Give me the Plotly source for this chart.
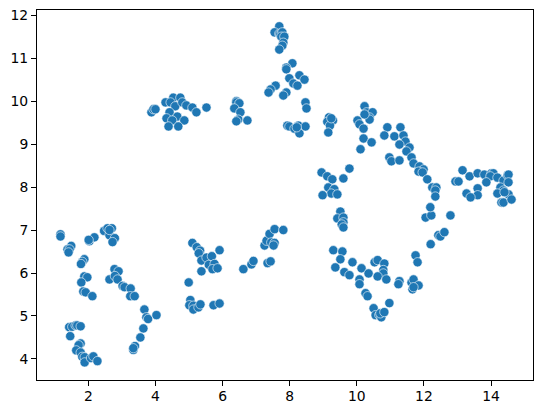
import plotly.graph_objects as go

x_left_low = [1.17, 1.17, 1.49, 1.38, 1.44, 1.41, 2.03, 2.18, 2.01, 2.47, 2.57, 2.70, 2.63, 2.79, 2.72, 2.63,
              1.88, 1.82, 1.78, 1.88, 1.97, 1.79, 1.85, 1.92, 2.12, 2.78, 2.90, 2.63, 2.79, 2.87,
              3.02, 3.08, 3.26, 3.25, 3.38, 3.67, 3.73, 3.78, 4.03, 3.64, 3.55, 3.39, 3.34, 3.34,
              1.43, 1.52, 1.62, 1.67, 1.77, 1.46, 1.77, 1.71, 1.64, 1.77, 1.82, 1.89, 1.89, 2.08, 2.15, 2.27]
y_left_low = [6.90, 6.85, 6.63, 6.55, 6.55, 6.48, 6.74, 6.83, 6.77, 6.98, 7.04, 7.04, 6.88, 6.81, 6.72, 7.00,
              6.32, 6.26, 6.21, 5.92, 5.90, 5.78, 5.57, 5.55, 5.46, 6.09, 6.04, 5.85, 5.93, 5.85,
              5.70, 5.67, 5.64, 5.46, 5.46, 5.15, 4.97, 4.93, 5.02, 4.71, 4.50, 4.30, 4.21, 4.25,
              4.74, 4.75, 4.78, 4.78, 4.76, 4.53, 4.36, 4.32, 4.20, 4.15, 4.05, 4.04, 3.92, 4.02, 4.06, 3.95]

x_mid_low = [4.99, 5.10, 5.23, 5.33, 5.29, 5.37, 5.52, 5.68, 5.59, 5.76, 5.70, 5.85, 5.91, 5.37,
             5.04, 5.01, 5.13, 5.13, 5.28, 5.34, 5.73, 5.91, 6.62, 6.86, 6.92, 7.34, 7.43,
             7.25, 7.31, 7.40, 7.55, 7.81, 7.45, 7.55, 7.52]
y_mid_low = [5.78, 6.70, 6.60, 6.52, 6.46, 6.29, 6.36, 6.39, 6.19, 6.21, 6.09, 6.11, 6.53, 6.04,
             5.37, 5.25, 5.24, 5.15, 5.20, 5.27, 5.25, 5.29, 6.09, 6.20, 6.28, 6.23, 6.27,
             6.64, 6.75, 6.91, 7.02, 7.00, 6.71, 6.70, 6.64]

x_ring_low = [9.51, 9.42, 9.60, 9.60, 9.55, 9.60, 9.30, 9.57, 9.51, 9.36, 9.63, 9.78, 9.87, 10.14, 10.08, 10.08,
              10.35, 10.26, 10.32, 10.53, 10.62, 10.82, 10.79, 10.79, 10.62, 10.88, 11.27, 11.24, 10.97,
              10.50, 10.56, 10.67, 10.73, 10.70, 10.82, 11.63, 11.69, 11.84, 11.66, 11.69, 11.75, 11.81,
              12.20, 12.43, 12.49, 12.61, 12.79, 12.05, 12.22]
y_ring_low = [7.43, 7.27, 7.29, 7.18, 7.13, 7.06, 6.53, 6.50, 6.32, 6.13, 6.02, 5.95, 6.25, 6.11, 5.85, 5.74,
              5.99, 5.53, 5.46, 6.25, 6.30, 6.22, 6.07, 5.99, 5.92, 5.85, 5.81, 5.74, 5.30,
              5.18, 5.02, 5.02, 4.97, 5.06, 5.09, 5.78, 5.85, 5.71, 5.62, 5.67, 6.41, 6.25,
              6.67, 6.88, 6.85, 6.95, 7.34, 7.29, 7.34]

x_ring_up = [9.17, 9.12, 9.29, 9.20, 9.24, 9.15, 10.23, 10.29, 10.47, 10.38, 10.38, 10.23, 10.02, 10.08, 10.20,
             10.20, 10.44, 10.11, 10.91, 10.82, 11.12, 11.30, 11.39, 11.45, 11.27, 11.57, 11.48, 11.63, 10.97,
             11.03, 11.27, 11.69, 11.87, 11.99, 11.84, 11.96, 12.10, 12.25, 12.37, 12.34, 12.34, 12.19,
             9.78, 8.95, 9.12, 9.27, 9.60, 9.15, 9.33, 9.24, 9.42, 8.98]
y_ring_up = [9.62, 9.52, 9.55, 9.43, 9.60, 9.27, 9.88, 9.74, 9.74, 9.62, 9.57, 9.69, 9.55, 9.46, 9.36,
             9.13, 9.04, 8.88, 9.39, 9.20, 9.18, 9.39, 9.20, 9.06, 8.99, 8.92, 8.83, 8.69, 8.69,
             8.60, 8.62, 8.55, 8.48, 8.41, 8.36, 8.34, 8.18, 7.99, 7.99, 7.92, 7.78, 7.53,
             8.43, 8.34, 8.25, 8.18, 8.20, 7.99, 7.95, 7.85, 7.83, 7.81]

x_right = [13.15, 13.36, 13.60, 13.80, 14.01, 14.07, 13.98, 13.86, 14.19, 14.37, 14.49, 14.52, 14.52, 12.94, 13.03,
           13.60, 13.60, 13.27, 13.39, 14.28, 14.37, 14.19, 14.52, 14.31, 14.37, 14.61, 14.40]
y_right = [8.39, 8.25, 8.32, 8.29, 8.32, 8.32, 8.25, 8.11, 8.22, 8.15, 8.27, 8.29, 8.11, 8.13, 8.13,
           7.97, 7.81, 7.85, 7.76, 7.99, 7.92, 7.85, 7.83, 7.64, 7.64, 7.71, 7.88]

x_top_left = [3.88, 3.94, 4.00, 4.53, 4.74, 4.30, 4.45, 4.59, 4.80, 4.92, 5.10, 5.22, 5.52, 4.42, 4.33, 4.65, 4.50,
              4.86, 4.39, 4.68, 6.41, 6.41, 6.50, 6.35, 6.53, 6.47, 6.41, 6.74]
y_top_left = [9.74, 9.81, 9.81, 10.08, 10.08, 9.97, 9.97, 9.88, 9.97, 9.90, 9.85, 9.74, 9.85, 9.74, 9.60, 9.64, 9.55,
              9.55, 9.41, 9.41, 10.00, 9.97, 9.95, 9.83, 9.74, 9.57, 9.53, 9.55]

x_top = [7.69, 7.55, 7.69, 7.72, 7.78, 7.75, 7.84, 7.81, 7.78, 7.69, 8.08, 7.90, 7.90, 7.99, 8.29, 8.44, 8.11, 8.23,
         7.58, 7.43, 7.37, 7.90, 7.81, 8.47, 8.50, 7.93, 7.99, 8.14, 8.26, 8.29, 8.47, 8.21]
y_top = [11.74, 11.60, 11.57, 11.55, 11.60, 11.50, 11.50, 11.36, 11.29, 11.20, 10.88, 10.78, 10.74, 10.53, 10.60, 10.50, 10.41, 10.36,
         10.36, 10.27, 10.20, 10.20, 10.13, 9.97, 9.83, 9.43, 9.41, 9.36, 9.43, 9.25, 9.41, 9.39]

x_vals = x_left_low + x_mid_low + x_ring_low + x_ring_up + x_right + x_top_left + x_top
y_vals = y_left_low + y_mid_low + y_ring_low + y_ring_up + y_right + y_top_left + y_top

x_ticks = [2, 4, 6, 8, 10, 12, 14]
y_ticks = [4, 5, 6, 7, 8, 9, 10, 11, 12]

fig = go.Figure(go.Scatter(
    x=x_vals,
    y=y_vals,
    mode='markers',
    marker=dict(color='#1f77b4', size=9.3, line=dict(color='white', width=0.6)),
))

axis_style = dict(
    showgrid=False,
    zeroline=False,
    showline=True,
    mirror=True,
    linecolor='black',
    linewidth=1,
    ticks='outside',
    ticklen=5,
    tickwidth=1,
    tickcolor='black',
    automargin=False,
    ticklabeloverflow='allow',
)
fig.update_xaxes(range=[0.47, 15.25], tickvals=x_ticks, ticklabelstandoff=-2, **axis_style)
fig.update_yaxes(range=[3.51, 12.12], tickvals=y_ticks, **axis_style)

# the page body adds 8px on the top and left, so the figure is made smaller to fit
fig.update_layout(
    width=535,
    height=405,
    autosize=False,
    showlegend=False,
    paper_bgcolor='white',
    plot_bgcolor='white',
    font=dict(family='DejaVu Sans', size=13.9, color='black'),
    margin=dict(l=29, r=10, t=2, b=33),
)

fig.write_html("out.html")
